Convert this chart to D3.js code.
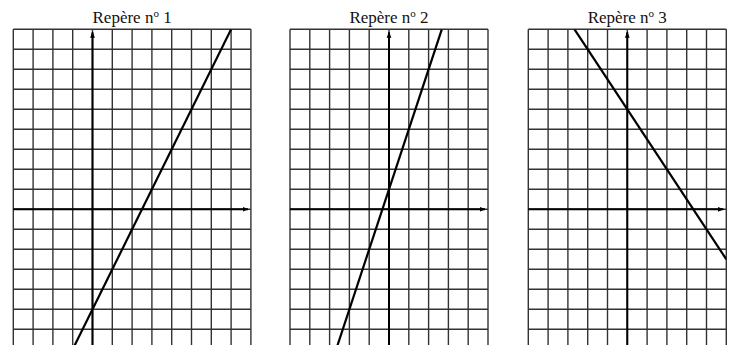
<!DOCTYPE html>
<html>
<head>
<meta charset="utf-8">
<script src="https://cdn.jsdelivr.net/npm/d3@7"></script>
<style>
  body { margin: 0; background: #fff; }
  svg { display: block; }
</style>
</head>
<body>
<div class="chart"></div>
<script>
// titles of the three frames
var titles = ["1", "2", "3"];
// x extent of each grid (units)
var xDomains = [[-4, 8], [-5, 5], [-5, 5]];
// y extent shared by the grids (bottom is cut by the picture)
var yDomain = [-7, 9];
// each line, as the two points where it leaves the grid
var lines = [
  [[-1, -7], [7, 9]],
  [[-2.667, -7], [2.667, 9]],
  [[-2.667, 9], [5, -2.5]]
];

var width = 730, height = 345;
var lefts = [13.3, 290, 528.3];
var cell = 19.8;
var gridTop = 29.3;

var svg = d3.select(".chart")
  .append("svg")
  .attr("width", width)
  .attr("height", height);

var defs = svg.append("defs");
defs.append("marker")
  .attr("id", "arrow")
  .attr("viewBox", "0 0 10 10")
  .attr("refX", 9)
  .attr("refY", 5)
  .attr("markerWidth", 3)
  .attr("markerHeight", 3)
  .attr("orient", "auto")
  .append("path")
  .attr("d", "M0,1L10,5L0,9Z")
  .attr("fill", "#000");

var y = d3.scaleLinear()
  .domain(yDomain)
  .range([gridTop + (yDomain[1] - yDomain[0]) * 20, gridTop]);

titles.forEach(function(t, i) {
  var xd = xDomains[i];
  var x = d3.scaleLinear()
    .domain(xd)
    .range([lefts[i], lefts[i] + (xd[1] - xd[0]) * cell]);

  var g = svg.append("g");

  defs.append("clipPath")
    .attr("id", "clip" + i)
    .append("rect")
    .attr("x", x(xd[0]))
    .attr("y", y(yDomain[1]))
    .attr("width", x(xd[1]) - x(xd[0]))
    .attr("height", y(yDomain[0]) - y(yDomain[1]));

  // grid
  g.selectAll(".vx")
    .data(d3.range(xd[0], xd[1] + 1))
    .enter()
    .append("line")
    .attr("x1", function(d) { return x(d); })
    .attr("x2", function(d) { return x(d); })
    .attr("y1", y(yDomain[0]))
    .attr("y2", y(yDomain[1]))
    .attr("stroke", "#333")
    .attr("stroke-width", 1.4);

  g.selectAll(".hy")
    .data(d3.range(yDomain[0], yDomain[1] + 1))
    .enter()
    .append("line")
    .attr("x1", x(xd[0]))
    .attr("x2", x(xd[1]))
    .attr("y1", function(d) { return y(d); })
    .attr("y2", function(d) { return y(d); })
    .attr("stroke", "#333")
    .attr("stroke-width", 1.4);

  // axes with arrows
  g.append("line")
    .attr("x1", x(xd[0]))
    .attr("x2", x(xd[1] - 0.15))
    .attr("y1", y(0))
    .attr("y2", y(0))
    .attr("stroke", "#000")
    .attr("stroke-width", 2)
    .attr("marker-end", "url(#arrow)");

  g.append("line")
    .attr("x1", x(0))
    .attr("x2", x(0))
    .attr("y1", y(yDomain[0]))
    .attr("y2", y(yDomain[1] - 0.15))
    .attr("stroke", "#000")
    .attr("stroke-width", 2)
    .attr("marker-end", "url(#arrow)");

  // the line
  g.append("path")
    .datum(lines[i])
    .attr("clip-path", "url(#clip" + i + ")")
    .attr("d", d3.line()
      .x(function(d) { return x(d[0]); })
      .y(function(d) { return y(d[1]); }))
    .attr("fill", "none")
    .attr("stroke", "#000")
    .attr("stroke-width", 2.2);

  // title
  var label = g.append("text")
    .attr("x", (x(xd[0]) + x(xd[1])) / 2)
    .attr("y", 22.5)
    .attr("text-anchor", "middle")
    .attr("font-family", "Liberation Serif, serif")
    .attr("font-size", 17)
    .attr("fill", "#111");
  label.append("tspan").text("Repère n");
  label.append("tspan")
    .attr("font-size", 11)
    .attr("dy", -5.5)
    .text("o");
  label.append("tspan")
    .attr("dy", 5.5)
    .text("\u00a0" + t);
});
</script>
</body>
</html>
